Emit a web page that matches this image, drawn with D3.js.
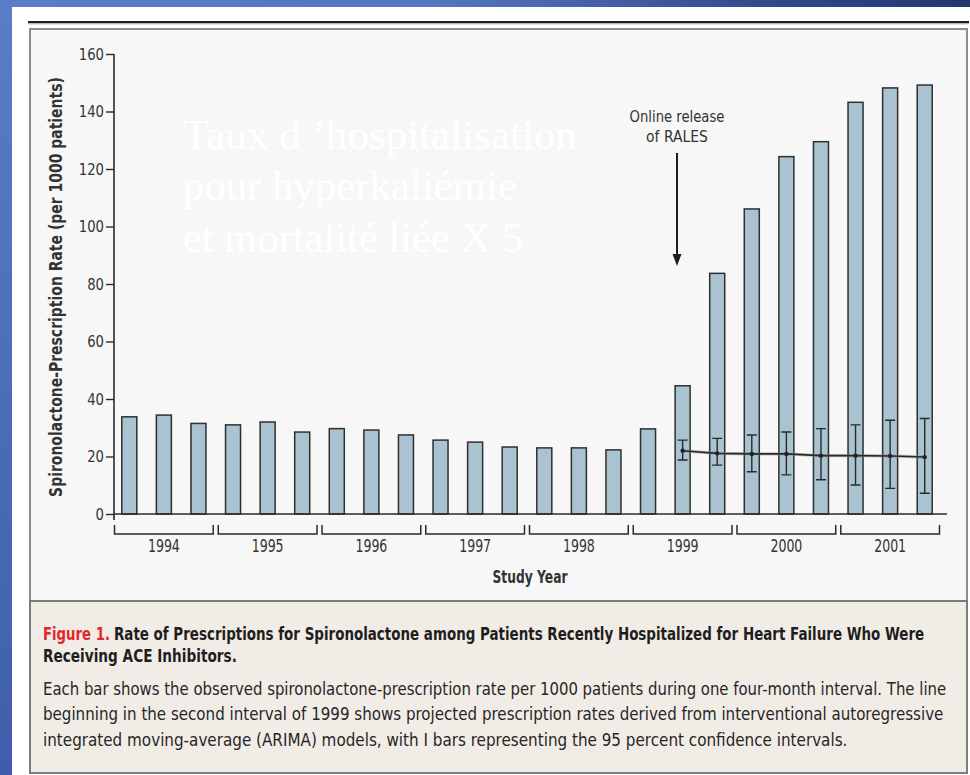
<!DOCTYPE html>
<html>
<head>
<meta charset="utf-8">
<script src="https://cdn.jsdelivr.net/npm/d3@7"></script>
<style>
  html, body { margin: 0; padding: 0; background: #fff; }
  svg { display: block; }
</style>
</head>
<body>
<svg id="chart" width="970" height="775"></svg>
<script>
// Study years and the three four-month intervals within each
const years = ["1994", "1995", "1996", "1997", "1998", "1999", "2000", "2001"];
const intervals = years.flatMap(y => [y + "-1", y + "-2", y + "-3"]);

// Observed spironolactone-prescription rate per 1000 patients, one value per interval
const rates = [33.8, 34.4, 31.5, 31.0, 32.0, 28.5, 29.7, 29.2, 27.5,
               25.7, 25.0, 23.3, 23.0, 23.0, 22.3, 29.6, 44.6, 83.7,
               106.1, 124.3, 129.5, 143.2, 148.2, 149.2];

// ARIMA projection from the second interval of 1999 onward, with 95% CI
const projIntervals = ["1999-2", "1999-3", "2000-1", "2000-2", "2000-3", "2001-1", "2001-2", "2001-3"];
const projected = [22.0, 21.1, 20.9, 20.9, 20.3, 20.3, 20.2, 19.8];
const ciLow  = [18.8, 17.0, 14.7, 13.6, 11.9, 10.1, 8.9, 7.2];
const ciHigh = [25.7, 26.3, 27.5, 28.5, 29.7, 31.0, 32.6, 33.2];

const yTicks = [0, 20, 40, 60, 80, 100, 120, 140, 160];

const overlayLines = ["Taux d \u2019hospitalisation", "pour hyperkaliémie", "et mortalité liée X 5"];
const captionTitle = ["Rate of Prescriptions for Spironolactone among Patients Recently Hospitalized for Heart Failure Who Were",
                      "Receiving ACE Inhibitors."];
const captionBody = ["Each bar shows the observed spironolactone-prescription rate per 1000 patients during one four-month interval. The line",
                     "beginning in the second interval of 1999 shows projected prescription rates derived from interventional autoregressive",
                     "integrated moving-average (ARIMA) models, with I bars representing the 95 percent confidence intervals."];

const sans = "'DejaVu Sans','Liberation Sans',sans-serif";

const svg = d3.select("#chart");

// Places a text at (x, y) and squeezes it horizontally to the given width,
// which gives the narrow journal typeface look.
function fitText(parent, str, x, y, width, attrs, extra = "") {
  const t = parent.append("text").text(str);
  Object.entries(attrs).forEach(([k, v]) => t.attr(k, v));
  const natural = t.node().getComputedTextLength();
  const s = width / natural;
  t.attr("transform", `translate(${x},${y}) ${extra} scale(${s},1)`);
  return t;
}

// ---- slide background ----
const defs = svg.append("defs");
const gTop = defs.append("linearGradient").attr("id", "bgTop").attr("x1", 0).attr("x2", 1).attr("y1", 0).attr("y2", 0);
gTop.append("stop").attr("offset", "0%").attr("stop-color", "#5a7dc7");
gTop.append("stop").attr("offset", "45%").attr("stop-color", "#5576c0");
gTop.append("stop").attr("offset", "80%").attr("stop-color", "#32488a");
gTop.append("stop").attr("offset", "100%").attr("stop-color", "#23376f");
const gLeft = defs.append("linearGradient").attr("id", "bgLeft").attr("x1", 0).attr("x2", 0).attr("y1", 0).attr("y2", 1);
gLeft.append("stop").attr("offset", "0%").attr("stop-color", "#5a7dc7");
gLeft.append("stop").attr("offset", "100%").attr("stop-color", "#3f5dac");

svg.append("rect").attr("x", 0).attr("y", 0).attr("width", 970).attr("height", 775).attr("fill", "url(#bgLeft)");
svg.append("rect").attr("x", 0).attr("y", 0).attr("width", 970).attr("height", 7).attr("fill", "url(#bgTop)");
svg.append("rect").attr("x", 12).attr("y", 7).attr("width", 958).attr("height", 768).attr("fill", "#ffffff");

// rule above the figure
svg.append("line").attr("x1", 28).attr("x2", 969).attr("y1", 22).attr("y2", 22)
  .attr("stroke", "#1e1e1e").attr("stroke-width", 2.2);
svg.append("line").attr("x1", 28).attr("x2", 969).attr("y1", 23.8).attr("y2", 23.8)
  .attr("stroke", "#9a9a9a").attr("stroke-width", 1);

// figure panel and caption panel
svg.append("rect").attr("x", 30).attr("y", 29).attr("width", 937).attr("height", 572)
  .attr("fill", "#f7f7f7").attr("stroke", "#8e8e8e").attr("stroke-width", 2);
svg.append("rect").attr("x", 30).attr("y", 601).attr("width", 937).attr("height", 172)
  .attr("fill", "#f2ece6").attr("stroke", "#7c7c7c").attr("stroke-width", 2);

// ---- scales ----
const x = d3.scaleBand().domain(intervals).range([112, 942]).paddingInner(0.566).paddingOuter(0.283);
const xYear = d3.scaleBand().domain(years).range([112, 942]);
const y = d3.scaleLinear().domain([0, 160]).range([514, 54]);

const ink = "#2b2b2b";

// ---- y axis ----
const tickSqueeze = 0.8;
const yAxis = d3.axisLeft(y).tickValues(yTicks).tickSize(8).tickSizeOuter(0).tickPadding(2);
const yg = svg.append("g").attr("transform", "translate(114,0)").call(yAxis);
yg.select(".domain").remove();
yg.selectAll(".tick line").attr("stroke", ink).attr("stroke-width", 1.4);
yg.selectAll(".tick text").attr("fill", "#333").attr("font-family", sans).attr("font-size", 16.5)
  .attr("x", -10 / tickSqueeze).attr("transform", `scale(${tickSqueeze},1)`);
svg.append("line").attr("x1", 114).attr("x2", 114).attr("y1", y(160)).attr("y2", 520)
  .attr("stroke", ink).attr("stroke-width", 1.6);

fitText(svg, "Spironolactone-Prescription Rate (per 1000 patients)", 62, 287, 420,
  { "text-anchor": "middle", "font-family": sans, "font-size": 17.5, "font-weight": 600, fill: "#333" },
  "rotate(-90)");

// ---- watermark-style overlay text ----
svg.append("g").selectAll("text").data(overlayLines).join("text")
  .attr("x", 183).attr("y", (d, i) => 149 + i * 51.3)
  .attr("font-family", "'Liberation Serif','Times New Roman',serif").attr("font-size", 42)
  .attr("fill", "#ffffff")
  .attr("textLength", (d, i) => [394, 334, 340][i]).attr("lengthAdjust", "spacingAndGlyphs")
  .text(d => d);

// ---- bars ----
svg.append("g").selectAll("rect").data(rates).join("rect")
  .attr("x", (d, i) => x(intervals[i]))
  .attr("width", x.bandwidth())
  .attr("y", d => y(d))
  .attr("height", d => y(0) - y(d))
  .attr("fill", "#a9c3d0").attr("stroke", "#2f2f2f").attr("stroke-width", 1.5);

// x baseline
svg.append("line").attr("x1", 114).attr("x2", 947).attr("y1", y(0)).attr("y2", y(0))
  .attr("stroke", ink).attr("stroke-width", 1.6);

// ---- year brackets ----
const yearG = svg.append("g");
years.forEach(d => {
  const x0 = xYear(d) + 2.5, x1 = xYear(d) + xYear.bandwidth() - 2.5;
  yearG.append("path").attr("d", `M${x0},525V534H${x1}V525`)
    .attr("fill", "none").attr("stroke", ink).attr("stroke-width", 1.5);
  fitText(yearG, d, xYear(d) + xYear.bandwidth() / 2, 552, 32,
    { "text-anchor": "middle", "font-family": sans, "font-size": 17, fill: "#333" });
});

fitText(svg, "Study Year", 530, 583, 75,
  { "text-anchor": "middle", "font-family": sans, "font-size": 17, "font-weight": 600, fill: "#333" });

// ---- projection with confidence intervals ----
const cx = k => x(projIntervals[k]) + x.bandwidth() / 2;
const line = d3.line().x((d, k) => cx(k)).y(d => y(d));
svg.append("path").datum(projected).attr("d", line)
  .attr("fill", "none").attr("stroke", "#8a8a8a").attr("stroke-width", 3.2).attr("opacity", 0.5);
svg.append("path").datum(projected).attr("d", line)
  .attr("fill", "none").attr("stroke", "#2a2a2a").attr("stroke-width", 1.6);

const eb = svg.append("g").selectAll("g").data(projected).join("g");
eb.append("path")
  .attr("d", (d, k) => {
    const c = cx(k), t = y(ciHigh[k]), b = y(ciLow[k]);
    return `M${c - 5},${t}H${c + 5}M${c},${t}V${b}M${c - 5},${b}H${c + 5}`;
  })
  .attr("fill", "none").attr("stroke", "#2a2a2a").attr("stroke-width", 1.4);
eb.append("circle").attr("cx", (d, k) => cx(k)).attr("cy", d => y(d)).attr("r", 2.2).attr("fill", "#222");

// ---- RALES annotation ----
const annX = 677;
fitText(svg, "Online release", annX, 121.5, 95,
  { "text-anchor": "middle", "font-family": sans, "font-size": 16.5, fill: "#333" });
fitText(svg, "of RALES", annX, 141.7, 62,
  { "text-anchor": "middle", "font-family": sans, "font-size": 16.5, fill: "#333" });
svg.append("line").attr("x1", annX).attr("x2", annX).attr("y1", 153).attr("y2", 256)
  .attr("stroke", "#1e1e1e").attr("stroke-width", 2);
svg.append("path").attr("d", `M${annX - 4.5},254L${annX + 4.5},254L${annX},266Z`).attr("fill", "#1e1e1e");

// ---- caption ----
const cap = svg.append("g");
fitText(cap, "Figure 1.", 43, 639.5, 67,
  { "font-family": sans, "font-size": 18.5, "font-weight": 600, fill: "#e3252d" });
fitText(cap, captionTitle[0], 114, 639.5, 811,
  { "font-family": sans, "font-size": 18.5, "font-weight": 700, fill: "#1e1e1e" });
fitText(cap, captionTitle[1], 43, 662, 194,
  { "font-family": sans, "font-size": 18.5, "font-weight": 700, fill: "#1e1e1e" });
captionBody.forEach((str, i) => {
  fitText(cap, str, 43, [695, 720, 745.5][i], [904, 901, 805][i],
    { "font-family": sans, "font-size": 17, fill: "#262626" });
});
</script>
</body>
</html>
